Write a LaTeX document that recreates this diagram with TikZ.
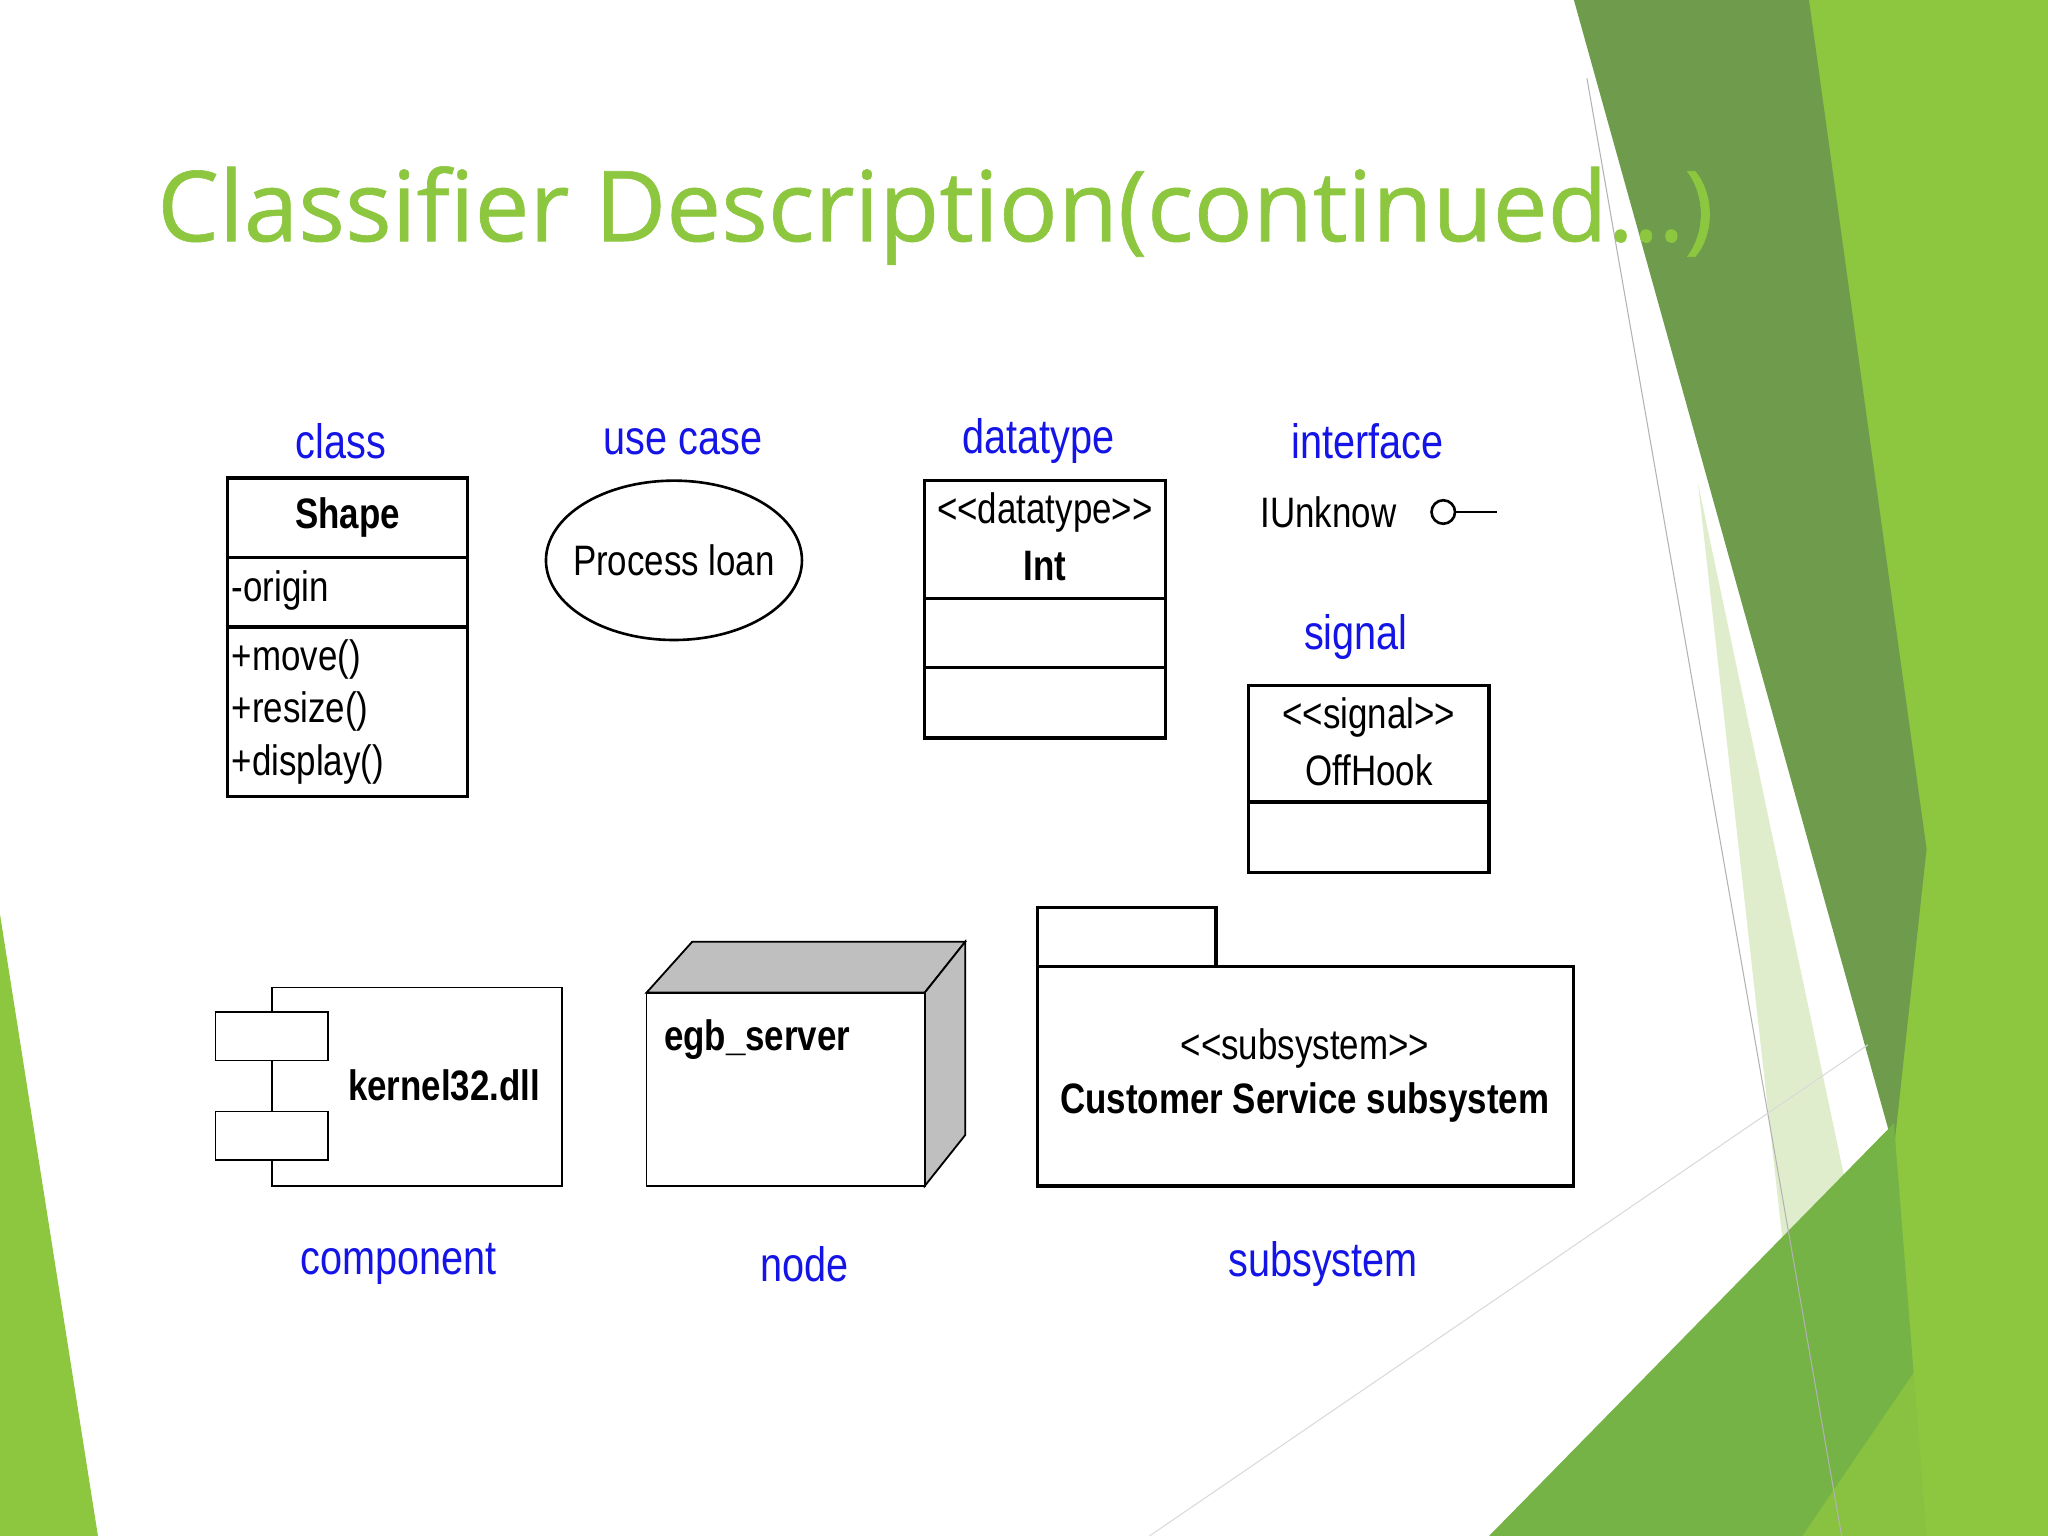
\documentclass[tikz,border=0pt]{standalone}
\usepackage{fontspec}
\setmainfont{Liberation Sans}
\newfontfamily\narrow[FakeStretch=0.82]{Liberation Sans}
\newfontfamily\titlefont[FakeBold=0.6]{Open Sans}
\definecolor{lg}{HTML}{8DC63F}
\definecolor{dg}{HTML}{6E9B4C}
\definecolor{mg}{HTML}{76B347}
\definecolor{pg}{HTML}{DDEBC8}
\definecolor{lbl}{HTML}{1414E6}
\begin{document}
\begin{tikzpicture}[x=0.5pt,y=-0.5pt,
  lab/.style={font=\narrow\fontsize{18.5}{21}\selectfont,text=lbl,inner sep=0},
  txt/.style={font=\narrow\fontsize{16.3}{19}\selectfont,inner sep=0},
  btxt/.style={font=\narrow\bfseries\fontsize{16.3}{19}\selectfont,inner sep=0},
  box/.style={draw,line width=1.2pt}]
\useasboundingbox (0,0) rectangle (1568,1176);
% decorations
\fill[lg] (1380,0) -- (1568,0) -- (1568,1176) -- (1420,1176) -- (1450,880) -- cycle;
\fill[dg] (1205,0) -- (1385,0) -- (1475,650) -- (1450,880) -- cycle;
\fill[pg,opacity=0.9] (1300,370) -- (1470,1176) -- (1390,1176) -- cycle;
\fill[mg] (1140,1176) -- (1450,860) -- (1475,1176) -- cycle;
\fill[lg,opacity=0.8] (1568,900) -- (1568,1176) -- (1380,1176) -- cycle;
\fill[lg] (0,700) -- (75,1176) -- (0,1176) -- cycle;
\draw[gray!60] (1215,60) -- (1410,1176);
\draw[gray!30] (880,1176) -- (1430,800);
% title
\node[font=\titlefont\fontsize{37.5}{44}\selectfont,text=lg,anchor=west,inner sep=0] (title) at (120,165) {Classifier Description(continued…)};
% labels
\node[lab] (lclass) at (261,338) {class};
\node[lab] (luse) at (523,338) {use case};
\node[lab] (ldt) at (795,338) {datatype};
\node[lab] (lint) at (1047,338) {interface};
\node[lab] (lsig) at (1038,488) {signal};
\node[lab] (lcomp) at (305,968) {component};
\node[lab] (lnode) at (616,968) {node};
\node[lab] (lsub) at (1013,968) {subsystem};
% class
\draw[box] (174,366) rectangle (358,610);
\draw[box] (174,427) -- (358,427);
\draw[box] (174,480) -- (358,480);
\node[btxt] (shape) at (266,396) {Shape};
\node[txt,anchor=west] (origin) at (177,452) {-origin};
\node[txt,anchor=west] (m1) at (177,505) {+move()};
\node[txt,anchor=west] (m2) at (177,545) {+resize()};
\node[txt,anchor=west] (m3) at (177,585) {+display()};
% use case
\node[txt] (uc) at (516,429) {Process loan};
\draw[line width=1pt] (uc.center) ellipse [x radius=98,y radius=61];
% datatype
\draw[box] (708,368) rectangle (892,565);
\draw[box] (708,458) -- (892,458);
\draw[box] (708,511) -- (892,511);
\node[txt] (dts) at (800,392) {<<datatype>>};
\node[btxt] (int) at (800,433) {Int};
% interface
\node[txt] (iu) at (1017,392) {IUnknow};
\node[draw,circle,minimum size=9pt,inner sep=0,line width=1pt] (lolly) at (1105,392) {};
\coordinate (lend) at (1146,392);
\draw[line width=1pt] (lolly.east) -- (lend);
% signal
\draw[box] (956,525) rectangle (1140,668);
\draw[box] (956,614) -- (1140,614);
\node[txt] (sigs) at (1048,549) {<<signal>>};
\node[txt] (off) at (1048,590) {OffHook};
% component
\draw[line width=0.7pt] (208,756) rectangle (430,908);
\draw[line width=0.7pt,fill=white] (165,775) rectangle (251,812);
\draw[line width=0.7pt,fill=white] (165,851) rectangle (251,888);
\node[btxt] (k32) at (340,831) {kernel32.dll};
% node
\draw[line width=0.7pt,fill=gray!50] (495,760) -- (530,721) -- (739,721) -- (708,760) -- cycle;
\draw[line width=0.7pt,fill=gray!50] (708,760) -- (739,721) -- (739,869) -- (708,908) -- cycle;
\draw[line width=0.7pt,fill=white] (495,760) rectangle (708,908);
\node[btxt,anchor=west] (egb) at (508,796) {egb\_server};
% subsystem
\draw[box] (794,695) rectangle (931,740);
\draw[box] (794,740) rectangle (1205,908);
\node[txt] (subs) at (999,803) {<<subsystem>>};
\node[btxt] (css) at (999,844) {Customer Service subsystem};
\end{tikzpicture}
\end{document}
